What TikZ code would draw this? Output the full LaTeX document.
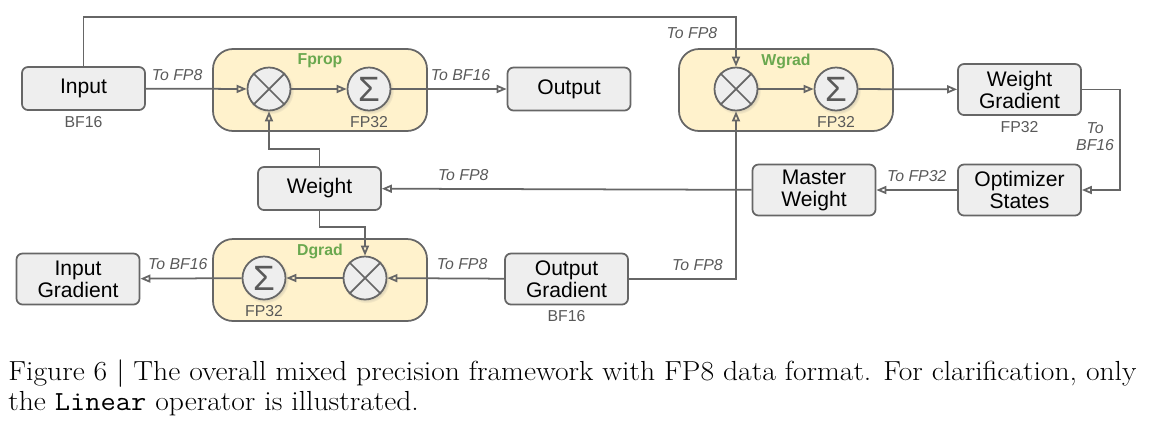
\documentclass[tikz,border=0pt]{standalone}
\usepackage{fontspec}
\setsansfont{Liberation Sans}
\usetikzlibrary{arrows.meta,positioning,shadows}
\definecolor{lineg}{HTML}{666666}
\definecolor{boxg}{HTML}{EEEEEE}
\definecolor{stagey}{HTML}{FFF2CC}
\definecolor{stageg}{HTML}{6AA84F}
\definecolor{textg}{HTML}{595959}

\begin{document}
\begin{tikzpicture}[x=0.2mm,y=-0.2mm,
    box/.style={draw=lineg,fill=boxg,line width=1pt,rounded corners=1.2mm,
        minimum width=24.6mm,minimum height=8.6mm,inner sep=0pt,align=center,
        font=\sffamily\fontsize{12}{12.5}\selectfont},
    tall/.style={minimum height=10.2mm},
    stage/.style={draw=lineg,fill=stagey,line width=1pt,rounded corners=4mm,
        minimum width=42.8mm,minimum height=16.4mm},
    op/.style={circle,draw=lineg,fill=boxg,line width=1pt,minimum size=8.6mm,inner sep=0pt,
        circular drop shadow={shadow xshift=0.25mm,shadow yshift=-0.3mm,opacity=0.25}},
    fmt/.style={inner sep=0pt,font=\sffamily\fontsize{9}{10}\selectfont,text=textg},
    conv/.style={inner sep=0pt,font=\sffamily\itshape\fontsize{9}{10}\selectfont,text=textg},
    tag/.style={inner sep=0pt,font=\sffamily\bfseries\fontsize{9}{10}\selectfont,text=stageg},
    flow/.style={draw=lineg,line width=1pt,-{Triangle[open,length=2mm,width=1.6mm]}},
    ]
    \useasboundingbox (0,0) rectangle (1150,420);

    % stages
    \node[stage] (fprop) at (320,90) {};
    \node[stage] (wgrad) at (786,90) {};
    \node[stage] (dgrad) at (320,280) {};
    \node[tag] [below=1.1mm of fprop.north] {Fprop};
    \node[tag] [below=1.1mm of wgrad.north] {Wgrad};
    \node[tag] [below=1.1mm of dgrad.north] {Dgrad};

    % operators
    \node[op] (fp_mul) at (269,89) {};
    \node[op,on grid] (fp_sum) [right=20mm of fp_mul] {\fontsize{20}{20}\selectfont\sffamily\color{textg}Σ};
    \node[op] (wg_mul) at (736,89) {};
    \node[op,on grid] (wg_sum) [right=20mm of wg_mul] {\fontsize{20}{20}\selectfont\sffamily\color{textg}Σ};
    \node[op] (dg_mul) at (365,278) {};
    \node[op,on grid] (dg_sum) [left=20.2mm of dg_mul] {\fontsize{20}{20}\selectfont\sffamily\color{textg}Σ};
    \foreach \m in {fp_mul,wg_mul,dg_mul}
        \draw[lineg,line width=1pt] (\m.north west) -- (\m.south east)
            (\m.north east) -- (\m.south west);

    % tensors
    \node[box] (in_box) at (83.5,88.5) {Input};
    \node[box] (out_box) at (569,89) {Output};
    \node[box,tall] (wg_box) at (1019.5,89.5) {Weight\\Gradient};
    \node[box,tall,on grid] (opt_box) [below=20.1mm of wg_box] {Optimizer\\States};
    \node[box,tall,on grid] (mw_box) [left=41.1mm of opt_box] {Master\\Weight};
    \node[box] (w_box) at (319.5,188.5) {Weight};
    \node[box,tall] (ig_box) at (78,279) {Input\\Gradient};
    \node[box,tall] (og_box) at (566.5,279) {Output\\Gradient};

    \node[fmt] [below=1mm of in_box] {BF16};
    \node[fmt] [below=1mm of fp_sum] {FP32};
    \node[fmt] [below=1mm of wg_sum] {FP32};
    \node[fmt] [below=1mm of wg_box] {FP32};
    \node[fmt] [below=1mm of dg_sum] {FP32};
    \node[fmt] [below=1mm of og_box] {BF16};

    \coordinate (wg_top) at (736,17);

    \path[flow]
    (in_box) edge node[conv,above=1.5mm,pos=0.31] {To FP8} (fp_mul)
    (fp_mul) edge (fp_sum)
    (fp_sum) edge node[conv,above=1.5mm,pos=0.6] {To BF16} (out_box)
    (wg_mul) edge (wg_sum)
    (wg_sum) edge (wg_box)
    (opt_box) edge node[conv,above=1.5mm] {To FP32} (mw_box)
    (mw_box) edge node[conv,above=1.5mm,pos=0.78] {To FP8} (w_box)
    (og_box) edge node[conv,above=1.5mm,pos=0.36] {To FP8} (dg_mul)
    (dg_mul) edge (dg_sum)
    (dg_sum) edge node[conv,above=1.5mm,pos=0.63] {To BF16} (ig_box);

    \draw[flow] (in_box.north) |- (wg_top)
        -- node[conv,left=3.6mm,pos=0.32] {To FP8} (wg_mul.north);
    \draw[flow] (w_box.north) -- ++(0,-17) -| (fp_mul.south);
    \draw[flow] (w_box.south) -- ++(0,16) -| (dg_mul.north);
    \draw[flow] (wg_box.east) -- ++(38,0)
        |- node[conv,align=center,left=1mm,pos=0.235] {To\\BF16} (opt_box.east);
    \draw[flow] (og_box.east) -| node[conv,above=1.5mm,pos=0.32] {To FP8} (wg_mul.south);

    % caption
    \node[anchor=north west,align=left,inner sep=0pt,font=\fontsize{15.7}{17.1}\selectfont]
        (caption) at (8,359) {\scalebox{1.073}[1]{Figure 6 | The overall mixed precision framework with FP8 data format. For clarification, only}\\
        \scalebox{1.073}[1]{the \texttt{Linear} operator is illustrated.}};
\end{tikzpicture}
\end{document}
